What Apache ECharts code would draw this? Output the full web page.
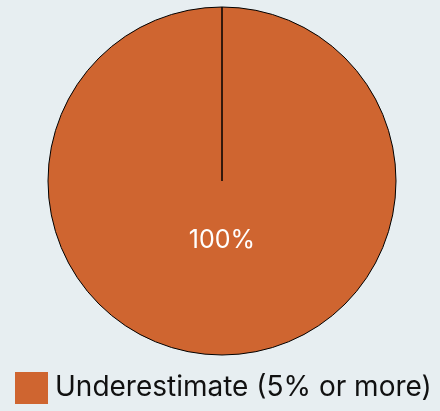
<!DOCTYPE html>
<html>
<head>
<meta charset="utf-8">
<script src="https://cdn.jsdelivr.net/npm/echarts@6/dist/echarts.min.js"></script>
<style>
  html, body { margin: 0; padding: 0; background: #e7eef1; }
  #chart { width: 440px; height: 411px; }
</style>
</head>
<body>
<div id="chart"></div>
<script>
// slice data
const categories = ["Underestimate (5% or more)"];
const values = [100];
const colors = ["#cf6530"];

const chart = echarts.init(document.getElementById("chart"));

let pieData = categories.map((name, i) => ({
  name: name,
  value: values[i],
  itemStyle: { color: colors[i] }
}));
// zero-width slice so the seam from centre to top is drawn
pieData.push({
  name: "_seam",
  value: 0,
  itemStyle: { color: colors[0] },
  label: { show: false }
});

const option = {
  backgroundColor: "#e7eef1",
  animation: false,
  legend: {
    data: categories,
    left: 15,
    top: 372,
    padding: 0,
    itemWidth: 33,
    itemHeight: 32,
    icon: "rect",
    itemStyle: { borderWidth: 0 },
    textStyle: {
      fontFamily: "Inter",
      fontSize: 28,
      color: "#111",
      padding: [4, 0, 0, 2]
    }
  },
  series: [
    {
      name: "Estimate",
      type: "pie",
      center: [222, 181],
      radius: [0, 174],
      startAngle: 90,
      clockwise: true,
      stillShowZeroSum: true,
      avoidLabelOverlap: false,
      itemStyle: {
        borderColor: "#000",
        borderWidth: 1
      },
      label: {
        show: true,
        position: "inside",
        formatter: "{c}%",
        color: "#fff",
        fontFamily: "Inter",
        fontSize: 25,
        offset: [0, -31]
      },
      labelLine: { show: false },
      emphasis: { disabled: true },
      data: pieData
    }
  ]
};

chart.setOption(option);
</script>
</body>
</html>
